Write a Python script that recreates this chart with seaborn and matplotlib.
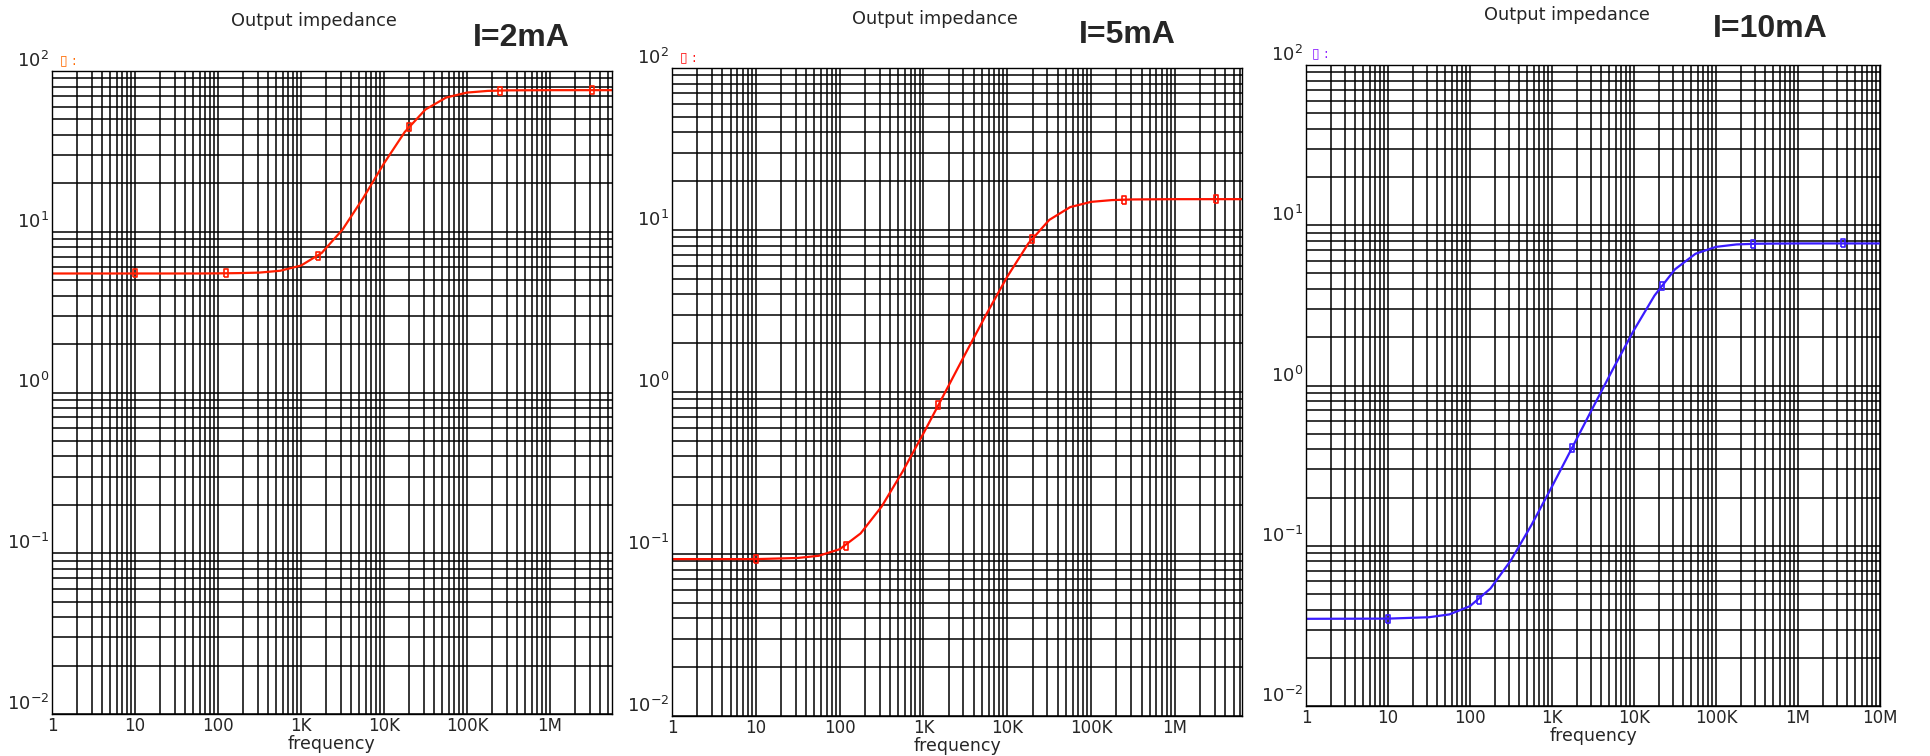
import numpy as np
import pandas as pd
import matplotlib
matplotlib.use("Agg")
import matplotlib.pyplot as plt
from matplotlib.ticker import LogLocator, NullFormatter
import seaborn as sns

# ---------------- data ----------------
freq = [1, 10, 31.6, 56.2, 100, 177.8, 316, 562, 1000, 1778, 3162, 5623,
        10000, 17783, 31623, 56234, 100000, 177828, 316228, 1e6]

z_2mA = [5.5, 5.5, 5.5, 5.5, 5.51, 5.53, 5.57, 5.72, 6.16, 7.38, 10.3, 16.2,
         26.6, 41.7, 57.6, 68.4, 73.4, 75.2, 75.8, 76.0]
z_5mA = [0.093, 0.093, 0.0945, 0.0975, 0.107, 0.134, 0.196, 0.322, 0.556,
         0.978, 1.725, 3.02, 5.16, 8.25, 11.54, 13.85, 14.92, 15.3, 15.44, 15.5]
z_10mA = [0.035, 0.0351, 0.0358, 0.0373, 0.042, 0.0541, 0.0812, 0.1348, 0.2343,
          0.413, 0.730, 1.285, 2.22, 3.64, 5.31, 6.64, 7.33, 7.59, 7.67, 7.7]

freq_end = [5.6e6, 6.3e6, 1e7]          # right end of each panel's trace
z_end = [76.0, 15.5, 7.7]

mk_f_2mA = [10, 126, 1600, 20000, 250000, 3.2e6]
mk_z_2mA = [5.5, 5.51, 7.05, 44.8, 75.6, 76.0]
mk_f_5mA = [10, 118, 1500, 19500, 245000, 3.1e6]
mk_z_5mA = [0.093, 0.112, 0.83, 8.85, 15.4, 15.5]
mk_f_10mA = [10, 129, 1750, 22000, 280000, 3.5e6]
mk_z_10mA = [0.0351, 0.046, 0.407, 4.2, 7.66, 7.7]

panel_titles = ["I=2mA", "I=5mA", "I=10mA"]
x_tick_vals = [1, 10, 100, 1e3, 1e4, 1e5, 1e6, 1e7]
x_tick_labels = ["1", "10", "100", "1K", "10K", "100K", "1M", "10M"]
y_tick_vals = [1e-2, 1e-1, 1e0, 1e1, 1e2]
y_tick_labels = [r"$10^{-2}$", r"$10^{-1}$", r"$10^{0}$", r"$10^{1}$", r"$10^{2}$"]
x_max = [5.6e6, 6.3e6, 1e7]

# ---------------- styling ----------------
sns.set_style("white")
plt.rcParams["font.family"] = ["DejaVu Sans"]
plt.rcParams["mathtext.fontset"] = "dejavusans"

W, H = 1930, 756
fig = plt.figure(figsize=(W / 100, H / 100), dpi=100)

# axes boxes in pixels: left, top, right, bottom
boxes = [(52, 71, 612, 714), (672, 68, 1242, 716), (1306, 65, 1880, 706)]
colors = ["#ff1e00", "#ff1200", "#3a1cff"]
legend_colors = ["#ff6a00", "#ff1010", "#8a1cff"]
series = [z_2mA, z_5mA, z_10mA]
marks = [(mk_f_2mA, mk_z_2mA), (mk_f_5mA, mk_z_5mA), (mk_f_10mA, mk_z_10mA)]
title_pos = [((314, 21), (521, 38)), ((935, 19), (1127, 35)), ((1567, 15), (1770, 29))]
legend_pos = [(60, 60), (680, 57), (1312, 53)]

rect_marker = [(-0.5, -1), (0.5, -1), (0.5, 1), (-0.5, 1), (-0.5, -1)]

for i in range(3):
    l, t, r, b = boxes[i]
    ax = fig.add_axes([l / W, 1 - b / H, (r - l) / W, (b - t) / H])
    ax.set_xscale("log")
    ax.set_yscale("log")

    df = pd.DataFrame({"f": freq + [freq_end[i]], "z": series[i] + [z_end[i]]})
    sns.lineplot(data=df, x="f", y="z", ax=ax, color=colors[i], lw=1.6,
                 estimator=None, sort=True)
    ax.plot(marks[i][0], marks[i][1], linestyle="none", marker=rect_marker,
            markersize=6, mfc="none", mec=colors[i], mew=1.2)

    ax.set_xlim(1, x_max[i])
    ax.set_ylim(1e-2, 1e2)

    ax.xaxis.set_minor_locator(LogLocator(base=10, subs=range(2, 10), numticks=100))
    ax.yaxis.set_minor_locator(LogLocator(base=10, subs=range(2, 10), numticks=100))
    ax.xaxis.set_minor_formatter(NullFormatter())
    ax.yaxis.set_minor_formatter(NullFormatter())
    ax.grid(which="both", color="black", lw=1.1)
    ax.set_axisbelow(True)

    nx = 8 if i == 2 else 7
    ax.set_xticks(x_tick_vals[:nx])
    ax.set_xticklabels(x_tick_labels[:nx])
    ax.set_yticks(y_tick_vals)
    ax.set_yticklabels(y_tick_labels)
    for lbl in ax.get_yticklabels():
        lbl.set_va("bottom")
    ax.tick_params(which="both", length=0)
    ax.tick_params(axis="x", labelsize=12, pad=2)
    ax.tick_params(axis="y", labelsize=13, pad=2)

    for s in ax.spines.values():
        s.set_color("black")
        s.set_linewidth(1.0)

    ax.set_xlabel("frequency", fontsize=12.5, labelpad=0.5)
    ax.set_ylabel("")

    (tx, ty), (ix, iy) = title_pos[i]
    fig.text(tx / W, 1 - ty / H, "Output impedance", fontsize=12.8,
             ha="center", va="center")
    fig.text(ix / W, 1 - iy / H, panel_titles[i], fontsize=23, fontweight="bold",
             family=["Liberation Sans", "DejaVu Sans"], ha="center", va="center")
    lx, ly = legend_pos[i]
    fig.text(lx / W, 1 - ly / H, "\u25af :", fontsize=10, color=legend_colors[i],
             ha="left", va="center")

fig.savefig("out.png", dpi=100)
